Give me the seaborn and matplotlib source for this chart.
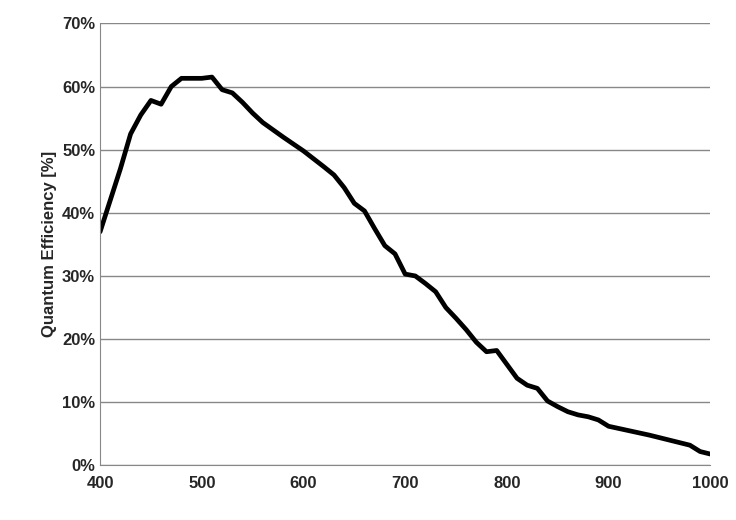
import matplotlib
matplotlib.use("Agg")
import matplotlib.pyplot as plt
import seaborn as sns
import pandas as pd
from matplotlib.ticker import FuncFormatter

wavelength = [400,410,420,430,440,450,460,470,480,490,500,510,520,530,540,550,560,580,600,620,630,640,650,660,670,680,690,700,710,720,730,740,750,760,770,780,790,800,810,820,830,840,850,860,870,880,890,900,920,940,960,980,990,1000]
qe = [37,42,47,52.5,55.5,57.8,57.2,60,61.3,61.3,61.3,61.5,59.5,59,57.5,55.8,54.3,52,49.8,47.3,46,44,41.5,40.3,37.5,34.8,33.5,30.3,30,28.8,27.5,25,23.3,21.5,19.5,18,18.2,16,13.8,12.7,12.2,10.2,9.3,8.5,8,7.7,7.2,6.2,5.5,4.8,4.0,3.2,2.2,1.8]

df = pd.DataFrame({"wl": wavelength, "qe": qe})
sns.set_style("white")
plt.rcParams['font.family'] = ['Liberation Sans', 'DejaVu Sans']
fig, ax = plt.subplots(figsize=(7.36, 5.2), dpi=100)
fig.subplots_adjust(left=0.136, right=0.965, top=0.955, bottom=0.105)
sns.lineplot(data=df, x="wl", y="qe", color="black", linewidth=3.4, ax=ax,
             solid_joinstyle="round", solid_capstyle="round")
ax.set_xlim(400, 1000)
ax.set_ylim(0, 70)
ax.set_xticks(range(400, 1001, 100))
ax.set_yticks(range(0, 71, 10))
ax.yaxis.set_major_formatter(FuncFormatter(lambda v, p: f"{int(v)}%"))
ax.grid(axis="y", color="#888888", linewidth=1)
ax.set_axisbelow(True)
for s in ["top", "right"]:
    ax.spines[s].set_visible(False)
ax.spines["left"].set_color("#888888")
ax.spines["bottom"].set_color("#888888")
ax.set_xlabel("")
ax.set_ylabel("Quantum Efficiency [%]", fontsize=12, fontweight="bold")
ax.tick_params(axis="both", labelsize=12, length=4, color="#888888", direction="out")
ax.tick_params(axis="y", length=0)
for lab in ax.get_xticklabels() + ax.get_yticklabels():
    lab.set_fontweight("bold")
fig.savefig("out.png", dpi=100)
